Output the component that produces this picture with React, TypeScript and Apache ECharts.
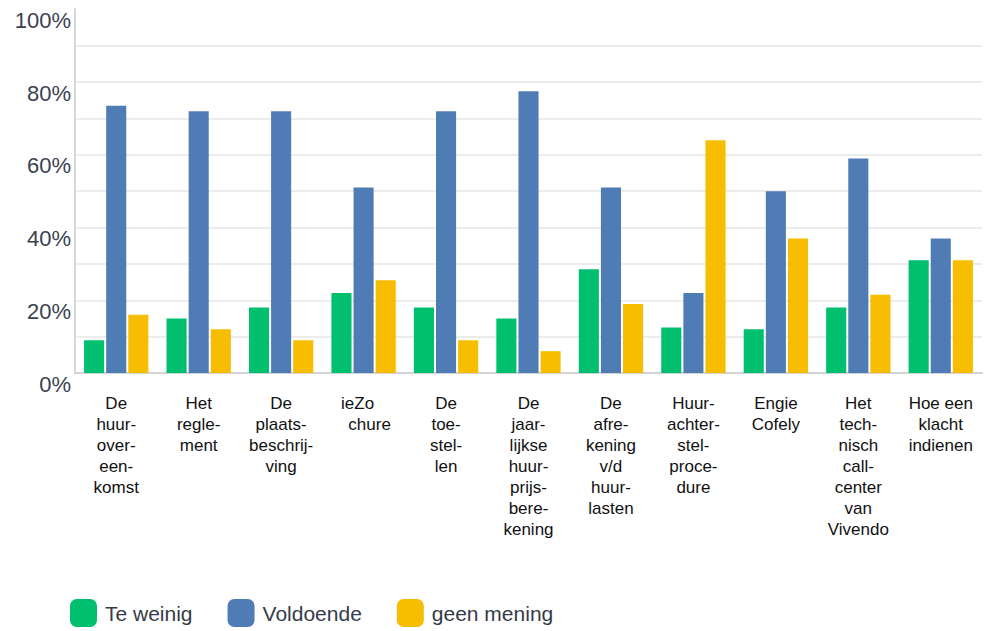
import React, { useEffect, useRef } from "react";
import * as echarts from "echarts";

const categories: string[] = [
  "De\nhuur-\nover-\neen-\nkomst",
  "Het\nregle-\nment",
  "De\nplaats-\nbeschrij-\nving",
  "ieZo\nchure",
  "De\ntoe-\nstel-\nlen",
  "De\njaar-\nlijkse\nhuur-\nprijs-\nbere-\nkening",
  "De\nafre-\nkening\nv/d\nhuur-\nlasten",
  "Huur-\nachter-\nstel-\nproce-\ndure",
  "Engie\nCofely",
  "Het\ntech-\nnisch\ncall-\ncenter\nvan\nVivendo",
  "Hoe een\nklacht\nindienen",
];

const teWeinig: number[] = [9, 15, 18, 22, 18, 15, 28.5, 12.5, 12, 18, 31];
const voldoende: number[] = [73.5, 72, 72, 51, 72, 77.5, 51, 22, 50, 59, 37];
const geenMening: number[] = [16, 12, 9, 25.5, 9, 6, 19, 64, 37, 21.5, 31];

const seriesNames: string[] = ["Te weinig", "Voldoende", "geen mening"];
const colors: string[] = ["#00BF6F", "#507CB6", "#F7BD00"];

const labelFont = "'Liberation Sans', Arial, sans-serif";

export default function App() {
  const ref = useRef<HTMLDivElement>(null);

  useEffect(() => {
    if (!ref.current) return;
    const chart = echarts.init(ref.current, undefined, { renderer: "svg" });
    const data = [teWeinig, voldoende, geenMening];
    chart.setOption({
      animation: false,
      backgroundColor: "#ffffff",
      grid: { left: 75, right: 13, top: 9.3, bottom: 258, containLabel: false },
      legend: {
        left: 70,
        top: 599,
        padding: 0,
        itemWidth: 27,
        itemHeight: 28,
        itemGap: 35,
        icon: "roundRect",
        textStyle: {
          fontSize: 21,
          color: "#343c48",
          fontFamily: labelFont,
          padding: [0, 0, 0, 3],
        },
        data: seriesNames,
      },
      xAxis: {
        type: "category",
        data: categories,
        axisLine: { show: true, lineStyle: { color: "#d4d4d4", width: 2 } },
        axisTick: { show: false },
        axisLabel: {
          interval: 0,
          margin: 20,
          color: "#111111",
          fontSize: 17,
          lineHeight: 21,
          fontFamily: labelFont,
          formatter: (v: string) =>
            v === "ieZo\nchure" ? "{a|ieZo}\n{b|chure}" : v,
          rich: {
            a: { fontSize: 17, lineHeight: 21, color: "#111111", fontFamily: labelFont, padding: [0, 12, 0, 0] },
            b: { fontSize: 17, lineHeight: 21, color: "#111111", fontFamily: labelFont, padding: [0, 0, 0, 12] },
          },
        },
      },
      yAxis: {
        type: "value",
        min: 0,
        max: 100,
        interval: 10,
        axisLine: { show: true, lineStyle: { color: "#d8d8d8", width: 2 } },
        axisTick: { show: false },
        splitLine: {
          show: true,
          showMaxLine: false,
          lineStyle: { color: "#ececec", width: 2 },
        },
        axisLabel: {
          margin: 4,
          fontSize: 22,
          color: "#3a4250",
          fontFamily: labelFont,
          verticalAlign: "top",
          formatter: (v: number) => (v % 20 === 0 ? v + "%" : ""),
        },
      },
      series: seriesNames.map((name, i) => ({
        name,
        type: "bar",
        data: data[i],
        barGap: "10%",
        barCategoryGap: "22%",
        itemStyle: { color: colors[i] },
      })),
    });
    return () => chart.dispose();
  }, []);

  return <div ref={ref} style={{ width: 995, height: 631, position: "absolute", left: 0, top: 0 }} />;
}
